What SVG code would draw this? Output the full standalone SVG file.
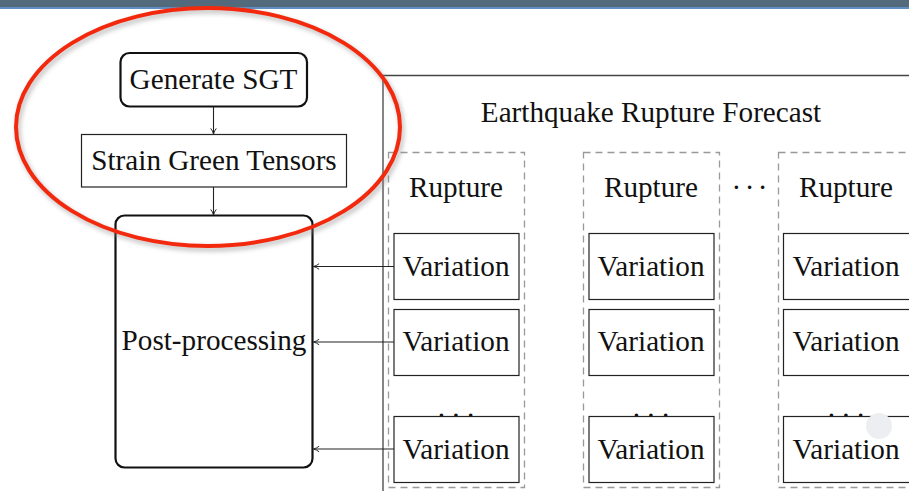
<svg xmlns="http://www.w3.org/2000/svg" width="909" height="491" viewBox="0 0 909 491">
<style>
text{font-family:"Liberation Serif","Times New Roman",serif;font-size:29.2px;fill:#111;text-anchor:middle}
.rbox{fill:#fff;stroke:#111;stroke-width:2.2}
.box{fill:#fff;stroke:#222;stroke-width:1.2}
.dash{fill:none;stroke:#999;stroke-width:1.3;stroke-dasharray:7 5}
.conn{stroke:#222;stroke-width:1.1;fill:none;marker-end:url(#arr)}
</style>
<defs>
<marker id="arr" viewBox="0 0 10 10" refX="9" refY="5" markerWidth="8" markerHeight="8" markerUnits="userSpaceOnUse" orient="auto">
<path d="M2,1.5 Q5,4 9,5 Q5,6 2,8.5" fill="none" stroke="#222" stroke-width="1.2"/>
</marker>
<filter id="sh" x="-10%" y="-10%" width="120%" height="125%">
<feGaussianBlur stdDeviation="2.5"/>
</filter>
</defs>
<rect x="0" y="0" width="909" height="7" fill="#526a7b"/>
<rect x="0" y="7" width="909" height="2" fill="#5f8fc2"/>

<path d="M383,491 V75.5 H909" fill="none" stroke="#444" stroke-width="1.3"/>
<text x="651" y="122">Earthquake Rupture Forecast</text>

<g id="rupture1">
<rect class="dash" x="388.5" y="152.5" width="136" height="335"/>
<text x="456" y="197">Rupture</text>
</g>
<g id="rupture2">
<rect class="dash" x="583.5" y="152.5" width="136" height="335"/>
<text x="651" y="197">Rupture</text>
</g>
<g id="rupture3">
<rect class="dash" x="778.5" y="152.5" width="160" height="335"/>
<text x="846" y="197">Rupture</text>
</g>
<text x="748.5" y="197" letter-spacing="-2">· · ·</text>

<g id="var1a"><rect class="box" x="394" y="233.5" width="125" height="66"/><text x="456" y="276">Variation</text></g>
<g id="var1b"><rect class="box" x="394" y="309.5" width="125" height="66"/><text x="456" y="351">Variation</text></g>
<text x="456" y="417">. . .</text>
<g id="var1c"><rect class="box" x="394" y="416.5" width="125" height="66"/><text x="456" y="459">Variation</text></g>

<g id="var2a"><rect class="box" x="589" y="233.5" width="125" height="66"/><text x="651" y="276">Variation</text></g>
<g id="var2b"><rect class="box" x="589" y="309.5" width="125" height="66"/><text x="651" y="351">Variation</text></g>
<text x="651" y="417">. . .</text>
<g id="var2c"><rect class="box" x="589" y="416.5" width="125" height="66"/><text x="651" y="459">Variation</text></g>

<g id="var3a"><rect class="box" x="783.5" y="233.5" width="140" height="66"/><text x="846" y="276">Variation</text></g>
<g id="var3b"><rect class="box" x="783.5" y="309.5" width="140" height="66"/><text x="846" y="351">Variation</text></g>
<text x="846" y="417">. . .</text>
<g id="var3c"><rect class="box" x="783.5" y="416.5" width="140" height="66"/><text x="846" y="459">Variation</text></g>

<g id="sgt"><rect class="rbox" x="120.5" y="53" width="186.5" height="53.5" rx="9"/><text x="213.5" y="89">Generate SGT</text></g>
<g id="tensors"><rect class="box" x="81.5" y="134.5" width="265" height="52.5"/><text x="214" y="170">Strain Green Tensors</text></g>
<g id="post"><rect class="rbox" x="115.5" y="215.5" width="197" height="252" rx="9"/><text x="214" y="350">Post-processing</text></g>

<g id="connectors">
<line class="conn" x1="213.5" y1="107" x2="213.5" y2="134"/>
<line class="conn" x1="213.5" y1="187" x2="213.5" y2="215"/>
<line class="conn" x1="394" y1="266.5" x2="313.5" y2="266.5"/>
<line class="conn" x1="394" y1="342" x2="313.5" y2="342"/>
<line class="conn" x1="394" y1="449" x2="313.5" y2="449"/>
</g>

<ellipse cx="210" cy="130" rx="192" ry="119" fill="none" stroke="#888" stroke-width="4" opacity="0.6" filter="url(#sh)"/>
<ellipse cx="208" cy="127" rx="192" ry="119" fill="none" stroke="#f3290e" stroke-width="4"/>
<circle cx="879" cy="426" r="13" fill="#eceef1"/>
</svg>
